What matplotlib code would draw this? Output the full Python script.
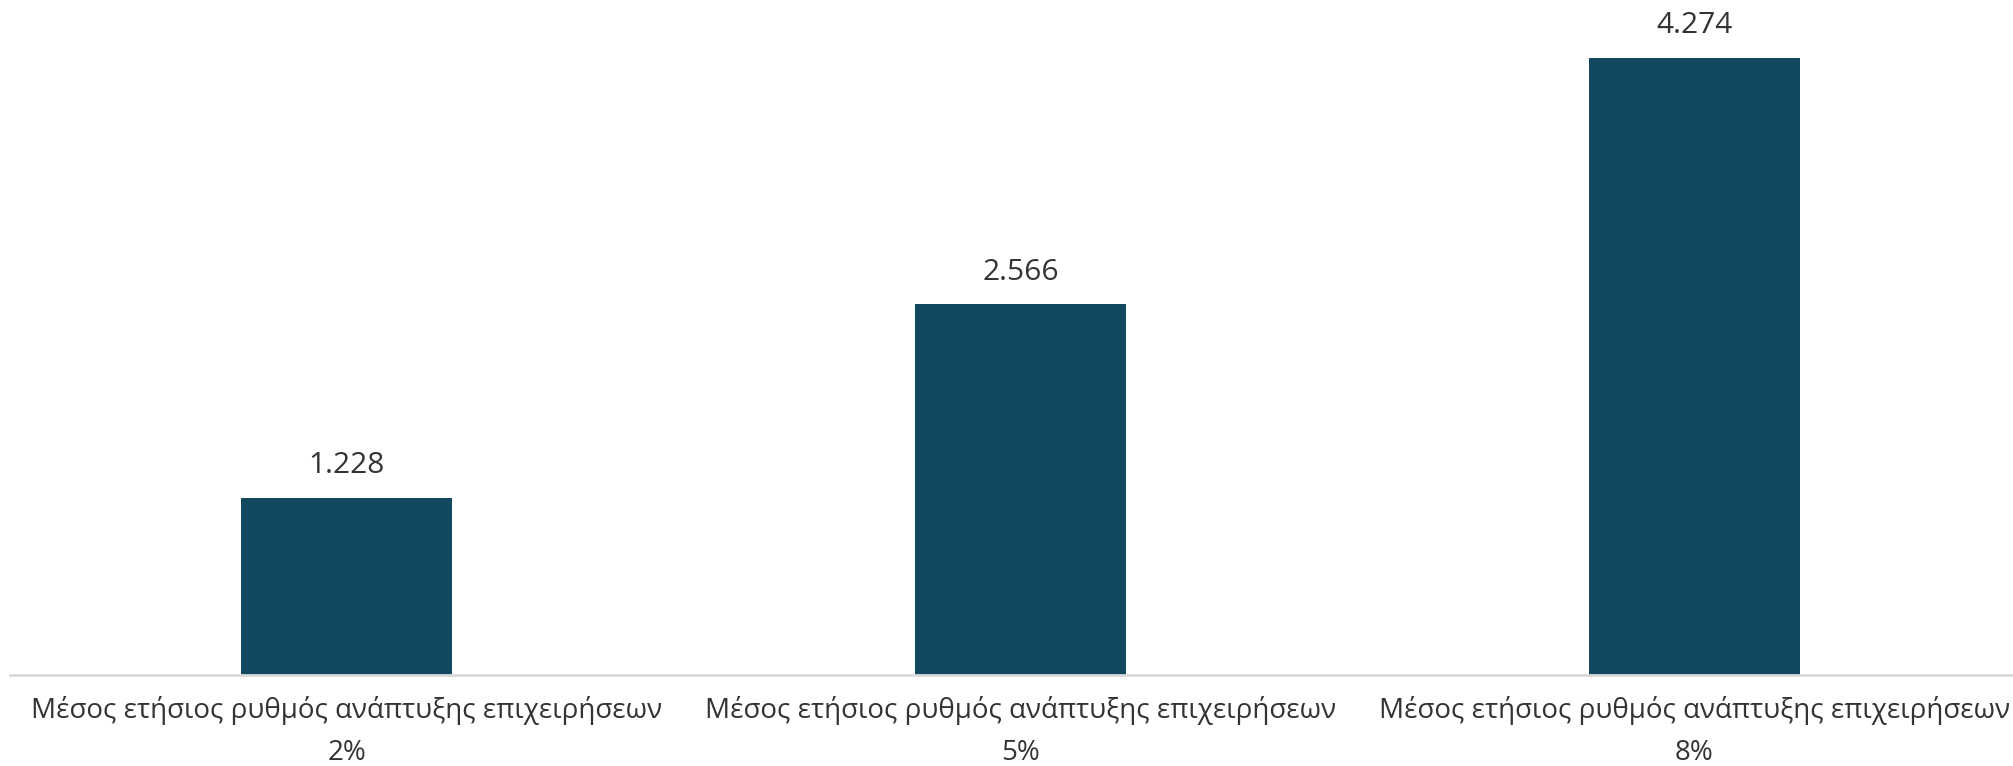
import matplotlib
matplotlib.use("Agg")
import matplotlib.pyplot as plt

# data
categories = ["Μέσος ετήσιος ρυθμός ανάπτυξης επιχειρήσεων\n2%",
              "Μέσος ετήσιος ρυθμός ανάπτυξης επιχειρήσεων\n5%",
              "Μέσος ετήσιος ρυθμός ανάπτυξης επιχειρήσεων\n8%"]
values = [1.228, 2.566, 4.274]
value_labels = ["1.228", "2.566", "4.274"]

plt.rcParams['font.family'] = ['Open Sans', 'DejaVu Sans']

fig = plt.figure(figsize=(20.13, 7.66), dpi=100)
ax = fig.add_axes([10 / 2013, 1 - 675 / 766, 1 - 10 / 2013, 675 / 766])

x = range(len(values))
bars = ax.bar(x, values, width=0.313, color='#124961', zorder=2)

for b, lab in zip(bars, value_labels):
    ax.annotate(lab, (b.get_x() + b.get_width() / 2, b.get_height()),
                xytext=(0, 23), textcoords='offset points',
                ha='center', va='center', fontsize=21.5, color='#333333')

ax.set_xlim(-0.5, 2.473)
ax.set_ylim(0, 675 / 144.4)
ax.set_xticks(list(x))
ax.set_xticklabels(categories, fontsize=20, color='#333333', linespacing=1.68)
ax.tick_params(axis='x', length=0, pad=15)
ax.set_yticks([])

for s in ['top', 'right', 'left']:
    ax.spines[s].set_visible(False)
ax.spines['bottom'].set_color('#d9d9d9')
ax.spines['bottom'].set_linewidth(2)
ax.spines['bottom'].set_zorder(3)

fig.savefig('out.png', dpi=100)
